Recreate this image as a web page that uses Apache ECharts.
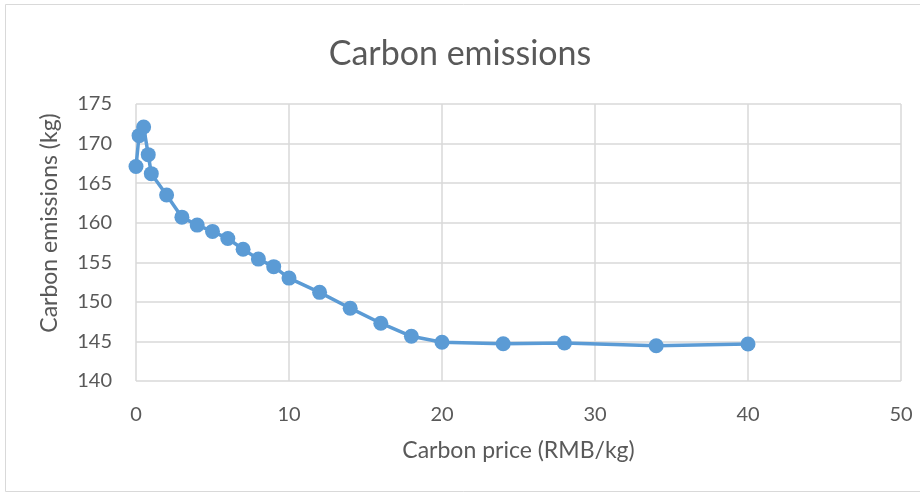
<!DOCTYPE html>
<html><head><meta charset="utf-8">
<script src="https://cdn.jsdelivr.net/npm/echarts@6/dist/echarts.min.js"></script>
<style>html,body{margin:0;padding:0;background:#fff}#c{width:920px;height:497px}</style>
</head><body><div id="c"></div>
<script>
const carbonPrice = [0, 0.2, 0.5, 0.8, 1, 2, 3, 4, 5, 6, 7, 8, 9, 10, 12, 14, 16, 18, 20, 24, 28, 34, 40];
const carbonEmissions = [167.1, 171.0, 172.1, 168.6, 166.2, 163.5, 160.7, 159.7, 158.9, 158.0, 156.65, 155.4, 154.45, 153.0, 151.2, 149.2, 147.3, 145.65, 144.9, 144.7, 144.8, 144.45, 144.67];
const titleText = 'Carbon emissions';
const xName = 'Carbon price (RMB/kg)';
const yName = 'Carbon emissions (kg)';

const font = 'Lato, "Open Sans", sans-serif';
const txt = '#595959';
const chart = echarts.init(document.getElementById('c'), null, {renderer: 'canvas'});
chart.setOption({
  animation: false,
  backgroundColor: '#fff',
  graphic: [
    {type: 'rect', shape: {x: 5.5, y: 4.5, width: 930, height: 487}, style: {fill: 'none', stroke: '#d9d9d9', lineWidth: 1}, silent: true},
    {type: 'text', x: 50, y: 223, rotation: Math.PI / 2, style: {text: yName, fontFamily: font, fontSize: 23, fill: txt, align: 'center', verticalAlign: 'middle'}, silent: true}
  ],
  title: {text: titleText, left: 'center', top: 32, textStyle: {fontFamily: font, fontSize: 34, fontWeight: 'normal', color: txt}},
  grid: {left: 136, right: 19, top: 104, bottom: 116, containLabel: false},
  xAxis: {
    type: 'value', min: 0, max: 50, interval: 10,
    name: xName, nameLocation: 'middle', nameGap: 58,
    nameTextStyle: {fontFamily: font, fontSize: 23, color: txt},
    axisLine: {show: false}, axisTick: {show: false},
    axisLabel: {fontFamily: font, fontSize: 20, color: txt, margin: 24},
    splitLine: {show: true, lineStyle: {color: '#d9d9d9', width: 1.5}}
  },
  yAxis: {
    type: 'value', min: 140, max: 175, interval: 5,
    axisLine: {show: false}, axisTick: {show: false},
    axisLabel: {fontFamily: font, fontSize: 20, color: txt, margin: 24},
    splitLine: {show: true, lineStyle: {color: '#d9d9d9', width: 1.5}}
  },
  series: [{
    type: 'line',
    data: carbonPrice.map((x, i) => [x, carbonEmissions[i]]),
    symbol: 'circle', symbolSize: 15,
    lineStyle: {color: '#5b9bd5', width: 3.5},
    itemStyle: {color: '#5b9bd5'}
  }]
});
</script></body></html>
